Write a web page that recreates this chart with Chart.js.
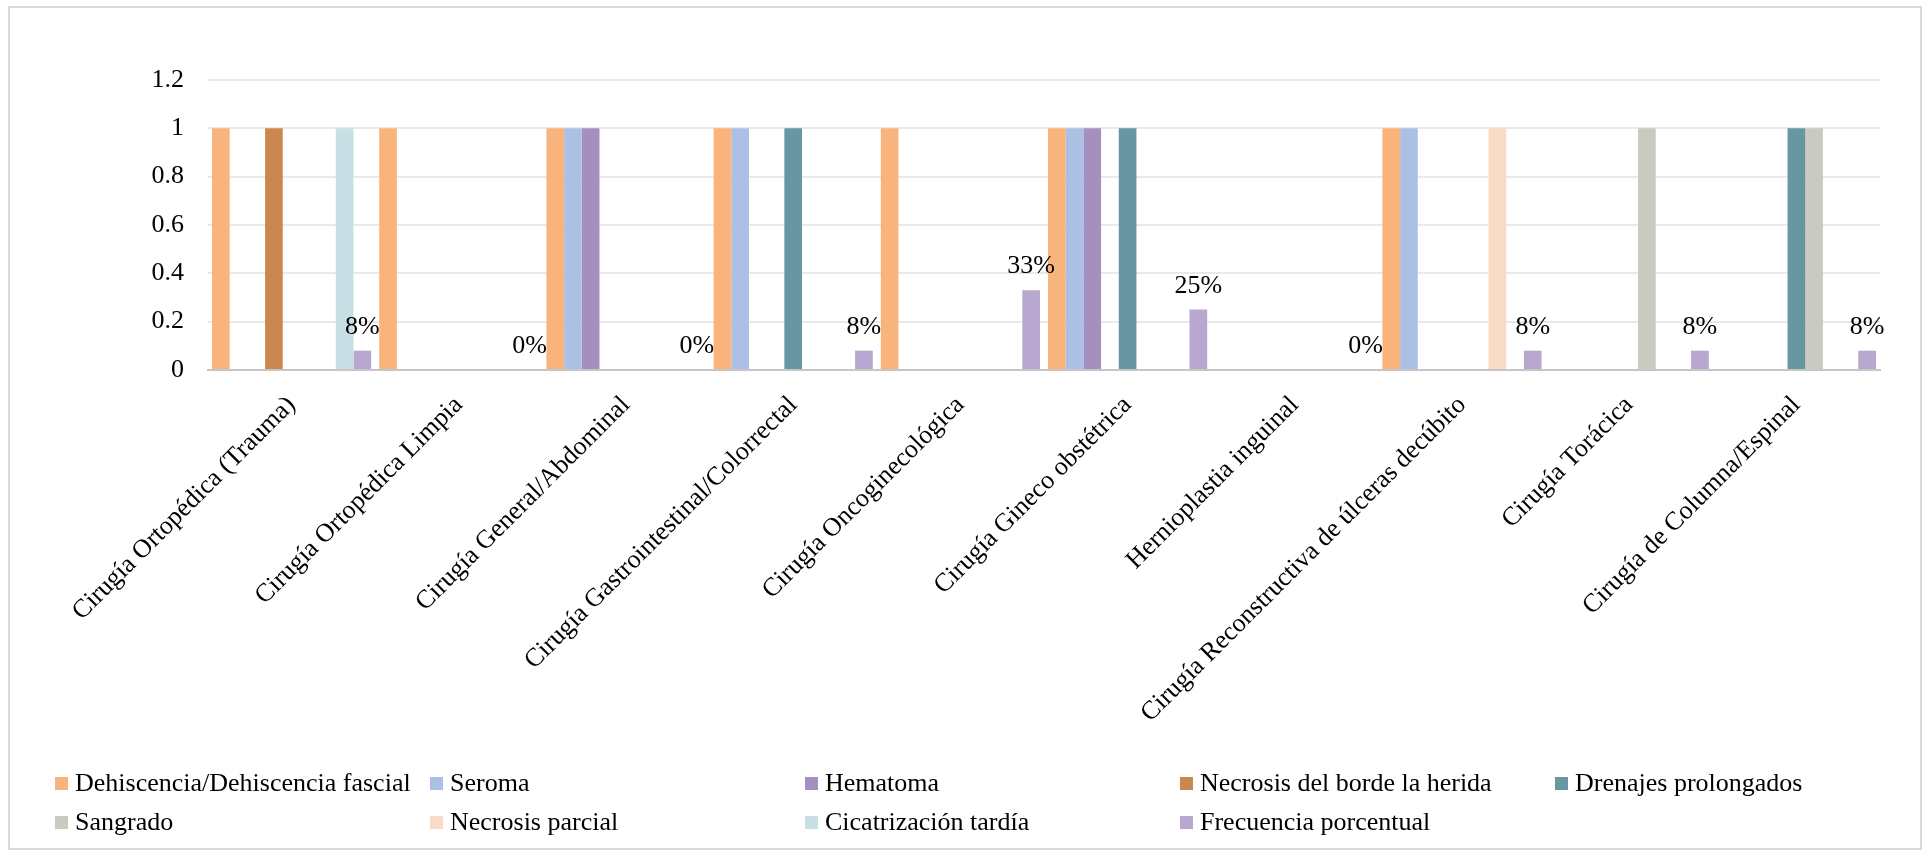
<!DOCTYPE html>
<html>
<head>
<meta charset="utf-8">
<script src="https://cdn.jsdelivr.net/npm/chart.js@4/dist/chart.umd.min.js"></script>
<style>
  body { margin: 0; background: #fff; }
  #wrap { position: relative; width: 1925px; height: 854px; }
  #frame { position: absolute; left: 8px; top: 6px; width: 1910px; height: 840px; border: 2px solid #d9d9d9; }
  #legend { position: absolute; left: 0; top: 0; font-family: "Liberation Serif", "Times New Roman", serif; font-size: 26px; color: #000; }
  .item { position: absolute; display: flex; align-items: center; line-height: 1; white-space: nowrap; }
  .box { width: 13px; height: 13px; margin-right: 7px; }
</style>
</head>
<body>
<div id="wrap">
  <div id="frame"></div>
  <canvas id="chart"></canvas>
  <div id="legend"></div>
</div>
<script>
const categories = [
  "Cirugía Ortopédica (Trauma)",
  "Cirugía Ortopédica Limpia",
  "Cirugía General/Abdominal",
  "Cirugía Gastrointestinal/Colorrectal",
  "Cirugía Oncoginecológica",
  "Cirugía Gineco obstétrica",
  "Hernioplastia inguinal",
  "Cirugía Reconstructiva de úlceras decúbito",
  "Cirugía Torácica",
  "Cirugía de Columna/Espinal"
];

// one value per category, null = empty cell
const dehiscencia     = [1, 1, 1, 1, 1, 1, null, 1, null, null];
const seroma          = [null, null, 1, 1, null, 1, null, 1, null, null];
const hematoma        = [null, null, 1, null, null, 1, null, null, null, null];
const necrosisBorde   = [1, null, null, null, null, null, null, null, null, null];
const drenajes        = [null, null, null, 1, null, 1, null, null, null, 1];
const sangrado        = [null, null, null, null, null, null, null, null, 1, 1];
const necrosisParcial = [null, null, null, null, null, null, null, 1, null, null];
const cicatrizacion   = [1, null, null, null, null, null, null, null, null, null];
const frecuencia      = [0.08, 0, 0, 0.08, 0.33, 0.25, 0, 0.08, 0.08, 0.08];

const seriesNames = [
  "Dehiscencia/Dehiscencia fascial", "Seroma", "Hematoma", "Necrosis del borde la herida",
  "Drenajes prolongados", "Sangrado", "Necrosis parcial", "Cicatrización tardía", "Frecuencia porcentual"
];
const seriesData = [dehiscencia, seroma, hematoma, necrosisBorde, drenajes, sangrado, necrosisParcial, cicatrizacion, frecuencia];
const seriesColors = ["#F8B47C", "#ABC0E4", "#A48FBE", "#CB884E", "#6896A2", "#C9CBC0", "#F9DAC4", "#C9DFE6", "#B8A7CF"];

const yTicks = [0, 0.2, 0.4, 0.6, 0.8, 1, 1.2];

const serif = '"Liberation Serif", "Times New Roman", serif';
Chart.defaults.font.family = serif;
Chart.defaults.font.size = 26;
Chart.defaults.color = "#000";

// percent labels above the "Frecuencia porcentual" bars
const pctLabels = {
  id: "pctLabels",
  afterDatasetsDraw(chart) {
    const ctx = chart.ctx;
    const meta = chart.getDatasetMeta(seriesData.length - 1);
    ctx.save();
    ctx.font = "26px " + serif;
    ctx.fillStyle = "#000";
    ctx.textAlign = "center";
    ctx.textBaseline = "alphabetic";
    meta.data.forEach((bar, i) => {
      ctx.fillText(Math.round(frecuencia[i] * 100) + "%", bar.x, bar.y - 17);
    });
    ctx.restore();
  }
};

const ctx = document.getElementById("chart");
const chart = new Chart(ctx, {
  type: "bar",
  data: {
    labels: categories,
    datasets: seriesNames.map((name, i) => ({
      label: name,
      data: seriesData[i],
      backgroundColor: seriesColors[i],
      borderWidth: 0,
      barPercentage: 1,
      categoryPercentage: 0.952
    }))
  },
  options: {
    responsive: true,
    maintainAspectRatio: false,
    animation: false,
    layout: { padding: { left: 0, right: 45, top: 80, bottom: 0 } },
    plugins: {
      legend: { display: false },
      tooltip: { enabled: false }
    },
    scales: {
      x: {
        grid: { display: false },
        border: { display: true, color: "#c6c6c6", width: 2 },
        ticks: { minRotation: 45, maxRotation: 45, autoSkip: false, padding: 12 },
        afterFit(scale) { scale.height = 484; }
      },
      y: {
        min: 0,
        max: 1.2,
        grid: { color: "#e9e9e9", lineWidth: 2, drawTicks: false },
        border: { display: false },
        afterBuildTicks(scale) { scale.ticks = yTicks.map(v => ({ value: v })); },
        ticks: { padding: 24, callback: v => String(Number(v.toFixed(1))) },
        afterFit(scale) { scale.width = 208; }
      }
    }
  },
  plugins: [pctLabels]
});

// legend laid out as a 5-column grid like the original
const legendCols = [55, 430, 805, 1180, 1555];
const legendRows = [770, 809];
const legend = document.getElementById("legend");
seriesNames.forEach((name, i) => {
  const item = document.createElement("div");
  item.className = "item";
  item.style.left = legendCols[i % 5] + "px";
  item.style.top = legendRows[Math.floor(i / 5)] + "px";
  item.innerHTML = '<span class="box" style="background:' + seriesColors[i] + '"></span><span>' + name + "</span>";
  legend.appendChild(item);
});
</script>
</body>
</html>
